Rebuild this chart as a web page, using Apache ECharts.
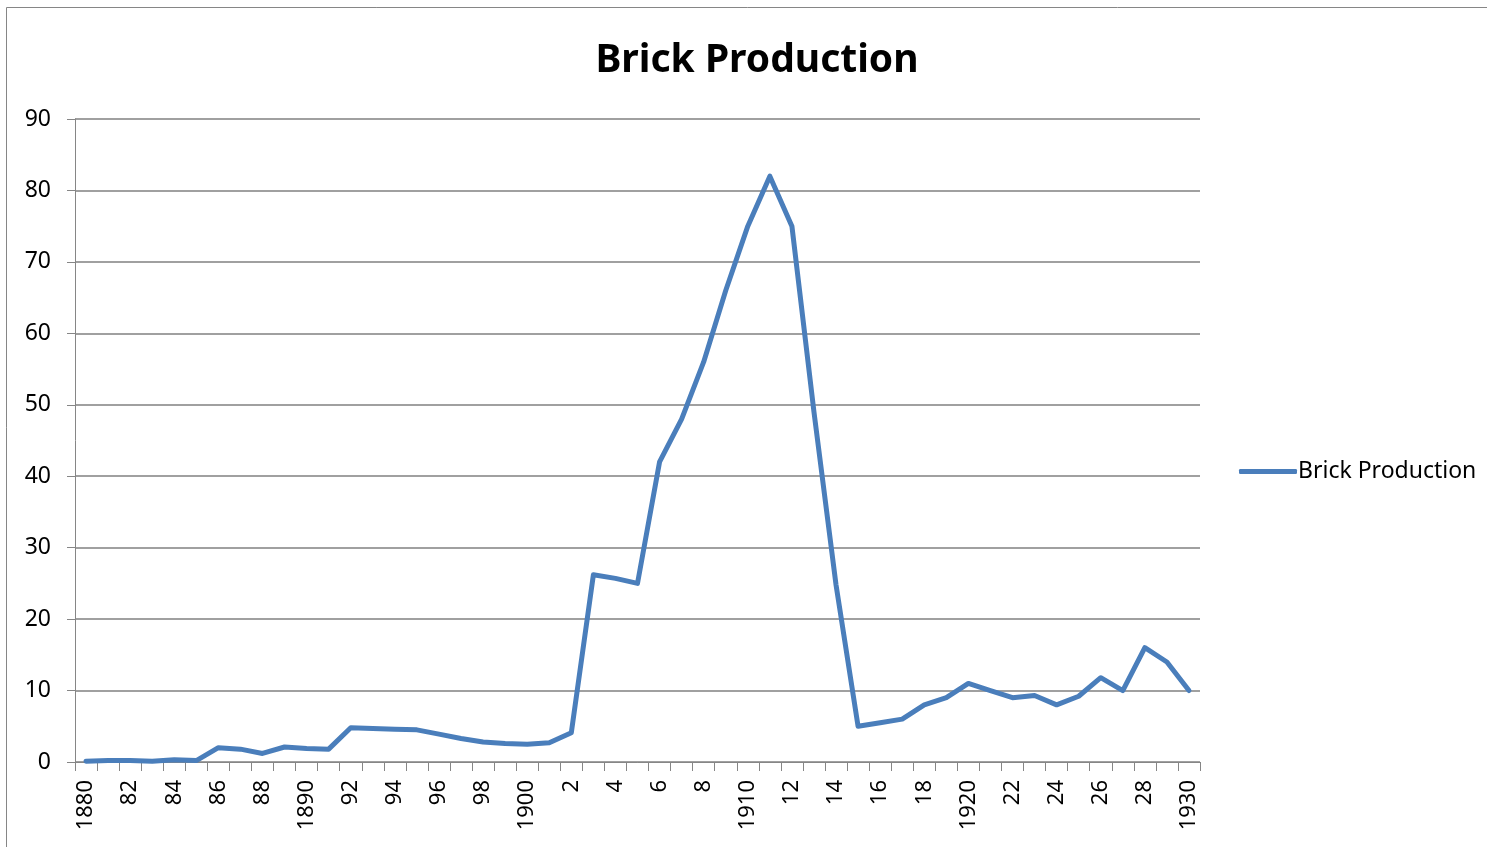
<!DOCTYPE html>
<html>
<head>
<meta charset="utf-8">
<script src="https://cdn.jsdelivr.net/npm/echarts@6/dist/echarts.min.js"></script>
<style>
html,body{margin:0;padding:0;background:#fff;}
#chart{width:1487px;height:847px;}
</style>
</head>
<body>
<div id="chart"></div>
<script>
const years = [];
for (let y = 1880; y <= 1930; y++) years.push(String(y));
const tickLabels = ['1880','82','84','86','88','1890','92','94','96','98','1900','2','4','6','8','1910','12','14','16','18','1920','22','24','26','28','1930'];
const brickProduction = [
  0.1,0.2,0.2,0.1,0.3,0.2,2.0,1.8,1.2,2.1,
  1.9,1.8,4.8,4.7,4.6,4.5,3.9,3.3,2.8,2.6,
  2.5,2.7,4.1,26.2,25.7,25.0,42.0,48.0,56.0,66.0,
  75.0,82.0,75.0,49.0,24.8,5.0,5.5,6.0,8.0,9.0,
  11.0,10.0,9.0,9.3,8.0,9.2,11.8,10.0,16.0,14.0,
  10.0
];
const yTicks = [0,10,20,30,40,50,60,70,80,90];

const chart = echarts.init(document.getElementById('chart'));
const axisColor = '#868686';
const lineColor = '#4A7EBB';
const font = '"Noto Sans", sans-serif';
chart.setOption({
  animation: false,
  backgroundColor: '#fff',
  title: {
    text: 'Brick Production',
    left: 752, top: 36, textAlign: 'center',
    textStyle: { fontFamily: font, fontWeight: 'bold', fontSize: 39, color: '#000' }
  },
  graphic: [{
    type: 'rect', shape: { x: 6.5, y: 7.5, width: 1600, height: 1000 },
    style: { fill: 'none', stroke: axisColor, lineWidth: 1 }, silent: true
  }],
  legend: {
    left: 1234, top: 455, itemWidth: 58, itemHeight: 5, itemGap: 0,
    icon: 'roundRect',
    itemStyle: { color: lineColor },
    textStyle: { fontFamily: font, fontSize: 23, color: '#000', padding: [0,0,0,-4] },
    data: ['Brick Production']
  },
  grid: { left: 75, right: 287, top: 119, bottom: 85 },
  xAxis: {
    type: 'category', data: years, boundaryGap: true,
    axisLine: { lineStyle: { color: axisColor, width: 1 } },
    axisTick: { show: true, interval: 0, length: 9, lineStyle: { color: axisColor } },
    axisLabel: {
      interval: 0, rotate: 90, margin: 18,
      fontFamily: font, fontSize: 22, color: '#000',
      formatter: (v, i) => (i % 2 === 0 ? tickLabels[i / 2] : '')
    },
    splitLine: { show: false }
  },
  yAxis: {
    type: 'value', min: yTicks[0], max: yTicks[yTicks.length - 1], interval: 10,
    axisLine: { show: true, lineStyle: { color: axisColor, width: 1 } },
    axisTick: { show: true, length: 8, lineStyle: { color: axisColor } },
    axisLabel: { margin: 24, fontFamily: font, fontSize: 23, color: '#000' },
    splitLine: { show: true, lineStyle: { color: '#808080', width: 1.5 } }
  },
  series: [{
    name: 'Brick Production', type: 'line', data: brickProduction,
    symbol: 'none', smooth: false,
    lineStyle: { color: lineColor, width: 5, join: 'round', cap: 'round' },
    itemStyle: { color: lineColor }
  }]
});
</script>
</body>
</html>
